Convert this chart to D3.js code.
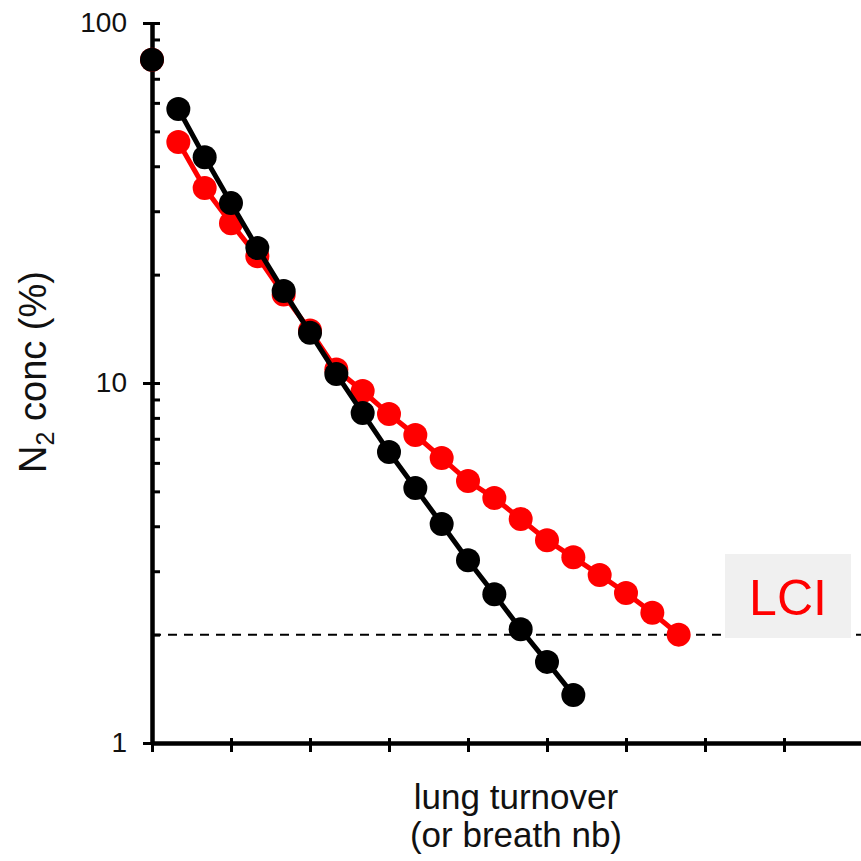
<!DOCTYPE html>
<html>
<head>
<meta charset="utf-8">
<script src="https://cdn.jsdelivr.net/npm/d3@7"></script>
<style>
  body { margin: 0; background: #fff; }
  svg { display: block; font-family: "Liberation Sans", Arial, sans-serif; }
</style>
</head>
<body>
<svg id="washout" width="861" height="861"></svg>
<script>
// N2 washout, one value per breath (breath 0 = start, shared by both)
const blackSeries = [79, 57.7, 42.4, 31.6, 23.7, 18.0, 13.8, 10.6, 8.25, 6.43, 5.11, 4.06, 3.22, 2.59, 2.07, 1.68, 1.36];
const redSeries = [79, 46.7, 34.8, 27.8, 22.5, 17.6, 14.0, 10.9, 9.5, 8.2, 7.17, 6.19, 5.34, 4.79, 4.19, 3.66, 3.28, 2.93, 2.61, 2.30, 2.0];
const yMajorTicks = [1, 10, 100];
const yMinorTicks = [2, 3, 4, 5, 6, 7, 8, 9, 20, 30, 40, 50, 60, 70, 80, 90];
const xTicks = [0, 3, 6, 9, 12, 15, 18, 21, 24];
const lciThreshold = 2;

const svg = d3.select('#washout');

// x: 79px per 3 breaths, axis runs off the right edge
const x = d3.scaleLinear().domain([0, (861 - 152) / (79 / 3)]).range([152, 861]);
const y = d3.scaleLog().domain([1, 100]).range([743, 23]);

// LCI threshold (dashed) + label box drawn over it
svg.append('line')
  .attr('x1', x(0)).attr('x2', 861)
  .attr('y1', y(lciThreshold)).attr('y2', y(lciThreshold))
  .attr('stroke', '#000').attr('stroke-width', 2)
  .attr('stroke-dasharray', '9,7');

svg.append('rect')
  .attr('x', 725).attr('y', 554)
  .attr('width', 126).attr('height', 84)
  .attr('fill', '#f0f0f0');

svg.append('text')
  .attr('x', 788).attr('y', 615)
  .attr('text-anchor', 'middle')
  .attr('font-size', 50)
  .attr('fill', '#ff0000')
  .text('LCI');

// axes
function styleAxis(g) {
  g.select('.domain').attr('stroke', '#000').attr('stroke-width', 4);
  g.selectAll('.tick line').attr('stroke', '#000').attr('stroke-width', 3);
  g.selectAll('.tick text')
    .attr('font-size', 28)
    .attr('fill', '#111')
    .attr('font-family', '"Liberation Sans", Arial, sans-serif');
}

// inward ticks (all decades + minors)
svg.append('g')
  .attr('transform', `translate(${x(0)},0)`)
  .call(d3.axisRight(y).tickValues(yMajorTicks.concat(yMinorTicks)).tickSize(8).tickSizeOuter(0).tickFormat(''))
  .call(styleAxis);

// outward major ticks with labels
svg.append('g')
  .attr('transform', `translate(${x(0)},0)`)
  .call(d3.axisLeft(y).tickValues(yMajorTicks).tickSize(9).tickSizeOuter(0).tickPadding(16).tickFormat(d3.format('d')))
  .call(styleAxis);

svg.append('g')
  .attr('transform', `translate(0,${y(1)})`)
  .call(d3.axisBottom(x).tickValues(xTicks).tickSize(9).tickSizeOuter(0).tickFormat(''))
  .call(styleAxis);

svg.append('g')
  .attr('transform', `translate(0,${y(1)})`)
  .call(d3.axisTop(x).tickValues(xTicks).tickSize(5).tickSizeOuter(0).tickFormat(''))
  .call(styleAxis);

// axis titles
const yTitle = svg.append('text')
  .attr('transform', 'translate(46,372) rotate(-90)')
  .attr('text-anchor', 'middle')
  .attr('font-size', 38)
  .attr('fill', '#111');
yTitle.append('tspan').text('N');
yTitle.append('tspan').attr('font-size', 25).attr('dy', 8).text('2');
yTitle.append('tspan').attr('dy', -8).text(' conc (%)');

svg.append('text')
  .attr('x', 516).attr('y', 809)
  .attr('text-anchor', 'middle')
  .attr('font-size', 35)
  .attr('fill', '#111')
  .text('lung turnover');

svg.append('text')
  .attr('x', 516).attr('y', 847)
  .attr('text-anchor', 'middle')
  .attr('font-size', 35)
  .attr('fill', '#111')
  .text('(or breath nb)');

// series: red underneath, black on top; the starting point stands alone
const line = d3.line().x(d => x(d.i)).y(d => y(d.v));

function drawSeries(data, color) {
  const pts = data.map((v, i) => ({ i, v }));
  const g = svg.append('g');
  g.append('path')
    .datum(pts.slice(1))
    .attr('d', line)
    .attr('fill', 'none')
    .attr('stroke', color)
    .attr('stroke-width', 5);
  g.selectAll('circle')
    .data(pts)
    .enter()
    .append('circle')
    .attr('cx', d => x(d.i))
    .attr('cy', d => y(d.v))
    .attr('r', 12)
    .attr('fill', color);
}

drawSeries(redSeries, '#ff0000');
drawSeries(blackSeries, '#000000');
</script>
</body>
</html>
